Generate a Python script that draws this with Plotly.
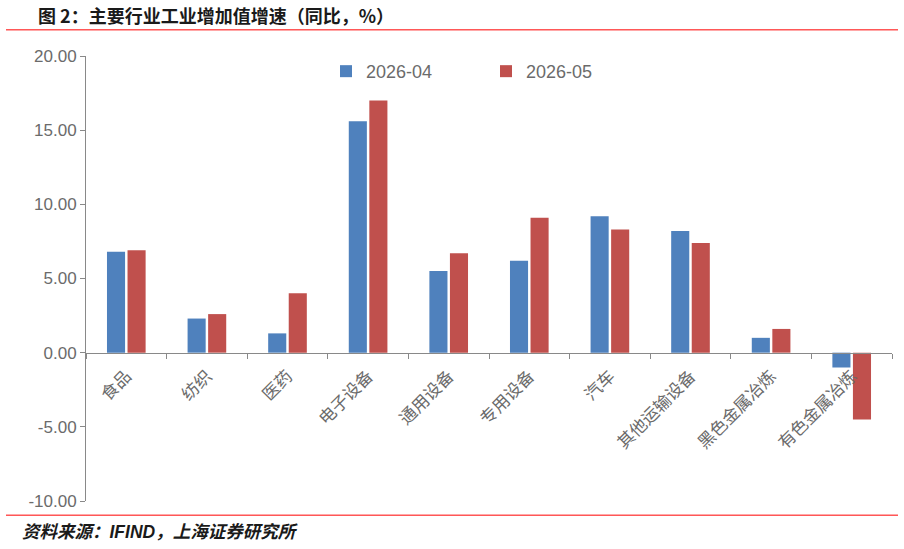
import plotly.graph_objects as go

categories = ["食品", "纺织", "医药", "电子设备", "通用设备", "专用设备", "汽车", "其他运输设备", "黑色金属冶炼", "有色金属冶炼"]
series_names = ["2026-04", "2026-05"]
values_apr = [6.8, 2.3, 1.3, 15.6, 5.5, 6.2, 9.2, 8.2, 1.0, -1.0]
values_may = [6.9, 2.6, 4.0, 17.0, 6.7, 9.1, 8.3, 7.4, 1.6, -4.5]
y_ticks = [-10, -5, 0, 5, 10, 15, 20]
y_tick_text = ["-10.00", "-5.00", "0.00", "5.00", "10.00", "15.00", "20.00"]

BLUE = "#4F81BD"
RED = "#C0504D"
GREY = "#6b6b6b"
AXIS = "#898989"
FONT = "Liberation Sans, Arial, Noto Sans CJK SC"

fig = go.Figure()
fig.add_trace(go.Bar(x=categories, y=values_apr, name=series_names[0], marker=dict(color=BLUE, line=dict(width=0))))
fig.add_trace(go.Bar(x=categories, y=values_may, name=series_names[1], marker=dict(color=RED, line=dict(width=0))))

W, H = 904, 549
ml, mr, mt, mb = 86, 12, 55.5, 47.5
ph = H - mt - mb
pw = W - ml - mr

def py(pix):
    return (H - mb - pix) / ph

def px(pix):
    return (pix - ml) / pw

fig.update_layout(
    width=W, height=H,
    margin=dict(l=ml, r=mr, t=mt, b=mb, pad=0),
    paper_bgcolor="white", plot_bgcolor="white",
    barmode="group", bargap=0.49, bargroupgap=0.12,
    font=dict(family=FONT, size=16, color=GREY),
    showlegend=True,
    legend=dict(orientation="h", x=px(326), y=py(71), xanchor="left", yanchor="middle",
                xref="paper", yref="paper", font=dict(size=18, color=GREY),
                entrywidth=115, itemwidth=30, bgcolor="rgba(0,0,0,0)"),
    xaxis=dict(
        type="category", anchor="free", position=1/3,
        showline=True, linecolor=AXIS, linewidth=1,
        ticks="outside", tickson="boundaries", ticklen=5, tickcolor=AXIS,
        tickangle=-45, tickfont=dict(size=17, color=GREY, family="Noto Sans CJK SC"),
        ticklabelstandoff=6,
        showgrid=False, zeroline=False,
    ),
    yaxis=dict(
        range=[-10, 20], tickvals=y_ticks, ticktext=y_tick_text,
        showline=True, linecolor=AXIS, linewidth=1,
        ticks="outside", ticklen=5, tickcolor=AXIS,
        tickfont=dict(size=17, color=GREY, family=FONT),
        showgrid=False, zeroline=False, domain=[0, 1],
    ),
    shapes=[
        dict(type="line", xref="paper", yref="paper", x0=px(6), x1=px(898), y0=py(29.3), y1=py(29.3),
             line=dict(color="#FF0000", width=1)),
        dict(type="line", xref="paper", yref="paper", x0=px(6), x1=px(898), y0=py(515.7), y1=py(515.7),
             line=dict(color="#FF0000", width=1)),
    ],
    annotations=[
        dict(text="<b>图 2：主要行业工业增加值增速（同比，%）</b>", xref="paper", yref="paper",
             x=px(36), y=py(14), xanchor="left", yanchor="middle", showarrow=False,
             font=dict(size=18, color="#1a1a1a", family="Noto Sans CJK SC")),
        dict(text="<b><i>资料来源：IFIND，上海证券研究所</i></b>", xref="paper", yref="paper",
             x=px(20), y=py(533), xanchor="left", yanchor="middle", showarrow=False,
             font=dict(size=17.5, color="#1a1a1a", family="Liberation Sans, Noto Sans CJK SC")),
    ],
)

fig.write_html("out.html")
